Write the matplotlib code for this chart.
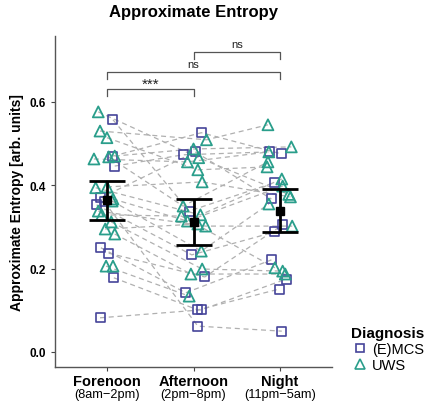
import numpy as np
import matplotlib
matplotlib.use("Agg")
import matplotlib.pyplot as plt
from matplotlib.lines import Line2D

plt.rcParams['font.family'] = ['Liberation Sans', 'DejaVu Sans']

# ---------------- data ----------------
times = ["Forenoon", "Afternoon", "Night"]
time_hours = ["(8am\u22122pm)", "(2pm\u22128pm)", "(11pm\u22125am)"]
diagnoses = ["(E)MCS", "UWS"]

# per-subject values (Forenoon, Afternoon, Night)
mcs_forenoon = [0.557, 0.470, 0.446, 0.370, 0.353, 0.250, 0.237, 0.178, 0.082, 0.360]
mcs_afternoon = [0.338, 0.526, 0.473, 0.480, 0.233, 0.142, 0.180, 0.101, 0.101, 0.062]
mcs_night = [0.406, 0.475, 0.480, 0.367, 0.288, 0.221, 0.305, 0.151, 0.175, 0.050]

uws_forenoon = [0.576, 0.530, 0.514, 0.470, 0.468, 0.463, 0.396, 0.394, 0.367,
                0.362, 0.338, 0.329, 0.312, 0.295, 0.283, 0.206, 0.206]
uws_afternoon = [0.466, 0.509, 0.437, 0.487, 0.350, 0.456, 0.408, 0.329, 0.314,
                 0.242, 0.302, 0.326, 0.199, 0.307, 0.187, 0.134, np.nan]
uws_night = [0.378, 0.545, 0.444, 0.492, 0.456, 0.480, 0.372, 0.415, 0.398,
             0.355, 0.302, 0.202, 0.194, np.nan, 0.187, np.nan, np.nan]

# horizontal jitter (presentation only)
mcs_jit = [[0.07, 0.07, 0.09, -0.07, -0.12, -0.07, 0.02, 0.08, -0.08, -0.03],
           [-0.05, 0.09, -0.12, 0.02, -0.02, -0.09, 0.13, 0.05, 0.09, 0.05],
           [-0.07, 0.02, -0.12, -0.10, -0.06, -0.10, 0.03, -0.01, 0.07, 0.02]]
uws_jit = [[-0.10, -0.08, 0.00, 0.09, 0.02, -0.15, 0.00, -0.13, 0.07,
            0.06, -0.10, -0.06, 0.05, -0.02, 0.09, -0.01, 0.07],
           [0.06, 0.15, 0.05, 0.00, -0.12, -0.07, 0.10, 0.08, -0.07,
            0.09, 0.14, -0.14, 0.10, 0.05, -0.03, -0.05, 0.0],
           [0.10, -0.14, -0.15, 0.13, -0.14, -0.13, 0.12, 0.02, 0.03,
            -0.13, 0.14, -0.06, 0.03, 0.0, 0.06, 0.0, 0.0]]

sig_pairs = [(0, 1), (0, 2), (1, 2)]
sig_labels = ["***", "ns", "ns"]
sig_heights = [0.631, 0.672, 0.720]

# ---------------- figure ----------------
fig = plt.figure(figsize=(4.4, 4.06), dpi=100)
ax = fig.add_axes([55/440, 1-368/406, (332-55)/440, (368-37)/406])

c_mcs = '#46449A'
c_uws = '#2A9E8B'
pos = np.array([1, 2, 3])

mcs = np.array([mcs_forenoon, mcs_afternoon, mcs_night])
uws = np.array([uws_forenoon, uws_afternoon, uws_night])
mcs_x = pos[:, None] + np.array(mcs_jit)
uws_x = pos[:, None] + np.array(uws_jit)

# connecting lines
for vals, xs in ((mcs, mcs_x), (uws, uws_x)):
    for s in range(vals.shape[1]):
        v = vals[:, s]
        x = xs[:, s]
        m = ~np.isnan(v)
        ax.plot(x[m], v[m], color='#B0B0B0', lw=0.9, ls=(0, (4, 3)), zorder=1)

ax.scatter(mcs_x.ravel(), mcs.ravel(), marker='s', s=42, facecolors='none',
           edgecolors=c_mcs, linewidths=1.2, zorder=3)
ax.scatter(uws_x.ravel(), uws.ravel(), marker='^', s=62, facecolors='none',
           edgecolors=c_uws, linewidths=1.3, zorder=3)

# mean and 95% CI
for i in range(3):
    allv = np.concatenate([mcs[i], uws[i]])
    allv = allv[~np.isnan(allv)]
    mean = allv.mean()
    ci = 1.96 * allv.std(ddof=1) / np.sqrt(len(allv))
    ax.errorbar(pos[i], mean, yerr=ci, fmt='s', color='black', ms=5.5,
                elinewidth=2.0, capsize=13, capthick=2.0, zorder=5)

# significance brackets
for (a, b), lab, h in zip(sig_pairs, sig_labels, sig_heights):
    ax.plot([pos[a], pos[a], pos[b], pos[b]], [h - 0.017, h, h, h - 0.017],
            color='#555555', lw=0.9, zorder=2, clip_on=False)
    ax.text((pos[a] + pos[b]) / 2, h + (0.006 if lab == 'ns' else -0.004), lab,
            ha='center', va='bottom', fontsize=8 if lab == 'ns' else 11,
            color='#222222')

ax.set_xlim(0.4, 3.6)
ax.set_ylim(-0.036, 0.758)
ax.set_yticks([0.0, 0.2, 0.4, 0.6])
ax.set_yticklabels(["0.0", "0.2", "0.4", "0.6"], fontweight='bold', fontsize=8.5)
ax.set_xticks(pos)
ax.set_xticklabels(times, fontweight='bold', fontsize=10.5)
for i in range(3):
    ax.text(pos[i], -0.1, time_hours[i], ha='center', va='center', fontsize=9.2,
            transform=ax.transData, clip_on=False)
ax.tick_params(axis='both', length=3, color='#444444', width=0.8)
ax.tick_params(axis='x', pad=2)
for sp in ['top', 'right']:
    ax.spines[sp].set_visible(False)
for sp in ['left', 'bottom']:
    ax.spines[sp].set_color('#555555')
    ax.spines[sp].set_linewidth(1.0)

ax.set_ylabel("Approximate Entropy [arb. units]", fontsize=10, fontweight='bold')
fig.text(193/440, 1-12/406, "Approximate Entropy", ha='center', va='center',
         fontsize=12, fontweight='bold')

handles = [Line2D([], [], marker='s', ls='none', mfc='none', mec=c_mcs, ms=6, mew=1.2),
           Line2D([], [], marker='^', ls='none', mfc='none', mec=c_uws, ms=7, mew=1.2)]
leg = fig.legend(handles, diagnoses, loc='upper left',
                 bbox_to_anchor=(344/440, 1-320/406), frameon=False,
                 title="Diagnosis", alignment='left', fontsize=10.5,
                 handletextpad=0.2, borderpad=0.0, labelspacing=0.12,
                 handlelength=1.2)
leg.get_title().set_fontweight('bold')
leg.get_title().set_fontsize(11)

fig.savefig("out.png", dpi=100)
